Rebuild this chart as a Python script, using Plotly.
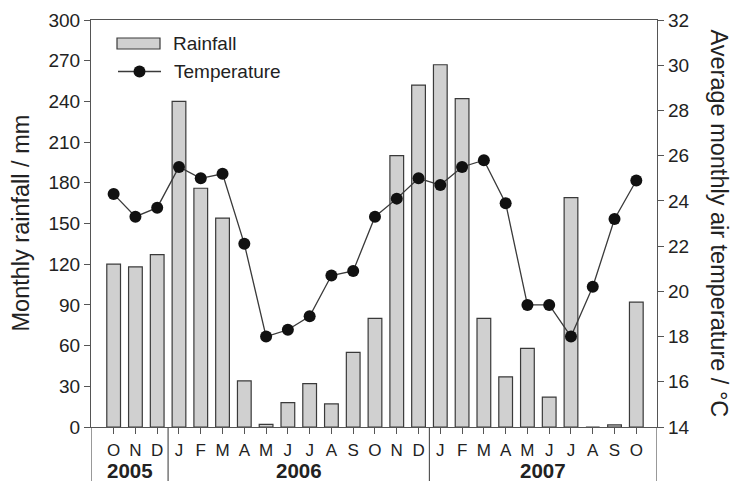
import plotly.graph_objects as go

months = ["O", "N", "D",
          "J", "F", "M", "A", "M", "J", "J", "A", "S", "O", "N", "D",
          "J", "F", "M", "A", "M", "J", "J", "A", "S", "O"]
rainfall = [120, 118, 127,
            240, 176, 154, 34, 2, 18, 32, 17, 55, 80, 200, 252,
            267, 242, 80, 37, 58, 22, 169, 0, 1.5, 92]
temperature = [24.3, 23.3, 23.7,
               25.5, 25.0, 25.2, 22.1, 18.0, 18.3, 18.9, 20.7, 20.9, 23.3, 24.1, 25.0,
               24.7, 25.5, 25.8, 23.9, 19.4, 19.4, 18.0, 20.2, 23.2, 24.9]
years = ["2005", "2006", "2007"]
year_bounds = [-1.04, 2.5, 14.5, 24.95]

x = list(range(len(months)))
FONT = "Liberation Sans, Arial, sans-serif"
TXT = "#222222"
AX = "#555555"
BAR_FILL = "#d0d0d0"
BAR_EDGE = "#3a3a3a"

W, H = 731, 481
L, R, T, B = 91, 74, 20, 54
PW, PH = W - L - R, H - T - B


def px(xp):
    return (xp - L) / PW


def py(yp):
    return (H - B - yp) / PH


fig = go.Figure()
fig.add_trace(go.Bar(
    x=x, y=rainfall, name="Rainfall", width=0.63,
    marker=dict(color=BAR_FILL, line=dict(color=BAR_EDGE, width=1.2)),
    yaxis="y"))
fig.add_trace(go.Scatter(
    x=x, y=temperature, name="Temperature", mode="lines+markers",
    line=dict(color="#3a3a3a", width=1.3),
    marker=dict(color="#111111", size=12),
    yaxis="y2"))

fig.update_layout(
    width=W, height=H,
    margin=dict(l=L, r=R, t=T, b=B, autoexpand=False),
    paper_bgcolor="white", plot_bgcolor="white",
    font=dict(family=FONT, size=19, color=TXT),
    showlegend=False,
    xaxis=dict(range=[year_bounds[0], year_bounds[-1]], tickmode="array",
               tickvals=x, ticktext=months, showgrid=False, zeroline=False,
               showline=True, linecolor=AX, linewidth=1.2, mirror=True,
               ticks="outside", ticklen=6, tickcolor=AX, automargin=False,
               ticklabelstandoff=1,
               tickfont=dict(size=17, color=TXT)),
    yaxis=dict(range=[0, 300], dtick=30, showgrid=False, zeroline=False,
               showline=True, linecolor=AX, linewidth=1.2,
               ticks="outside", ticklen=6, tickcolor=AX, automargin=False,
               tickfont=dict(size=19, color=TXT)),
    yaxis2=dict(range=[14, 32], dtick=2, overlaying="y", side="right",
                showgrid=False, zeroline=False, automargin=False,
                showline=True, linecolor=AX, linewidth=1.2,
                ticks="outside", ticklen=6, tickcolor=AX,
                tickfont=dict(size=19, color=TXT)),
)

# axis titles
fig.add_annotation(text="Monthly rainfall / mm", xref="paper", yref="paper",
                   x=px(20), y=0.5, textangle=-90, showarrow=False,
                   xanchor="center", yanchor="middle",
                   font=dict(size=23.5, color=TXT))
fig.add_annotation(text="Average monthly air temperature / °C", xref="paper", yref="paper",
                   x=px(719), y=0.5, textangle=90, showarrow=False,
                   xanchor="center", yanchor="middle",
                   font=dict(size=23.5, color=TXT))

# year separators and labels below the axis
for b in year_bounds:
    fig.add_shape(type="line", xref="x", yref="paper", x0=b, x1=b, y0=0, y1=py(H + 2),
                  line=dict(color=AX, width=1.2))
for i, yr in enumerate(years):
    fig.add_annotation(text="<b>" + yr + "</b>", xref="x", yref="paper",
                       x=(year_bounds[i] + year_bounds[i + 1]) / 2, y=py(470),
                       yanchor="middle", showarrow=False,
                       font=dict(size=20.5, color=TXT))

# legend drawn by hand
fig.add_shape(type="rect", xref="paper", yref="paper",
              x0=px(117), x1=px(160), y0=py(49), y1=py(38),
              fillcolor=BAR_FILL, line=dict(color=BAR_EDGE, width=1.2))
fig.add_annotation(text="Rainfall", xref="paper", yref="paper", x=px(171), y=py(43.5),
                   xanchor="left", yanchor="middle", showarrow=False,
                   font=dict(size=19, color=TXT))
fig.add_shape(type="line", xref="paper", yref="paper",
              x0=px(118), x1=px(161), y0=py(71.5), y1=py(71.5),
              line=dict(color="#3a3a3a", width=1.3))
fig.add_shape(type="circle", xref="paper", yref="paper",
              x0=px(133.5), x1=px(145.5), y0=py(77.5), y1=py(65.5),
              fillcolor="#111111", line=dict(color="#111111", width=0))
fig.add_annotation(text="Temperature", xref="paper", yref="paper", x=px(172), y=py(71.5),
                   xanchor="left", yanchor="middle", showarrow=False,
                   font=dict(size=19, color=TXT))

fig.write_html("out.html", config={"displayModeBar": False},
               post_script="document.body.style.margin='0';document.body.style.overflow='hidden';")
